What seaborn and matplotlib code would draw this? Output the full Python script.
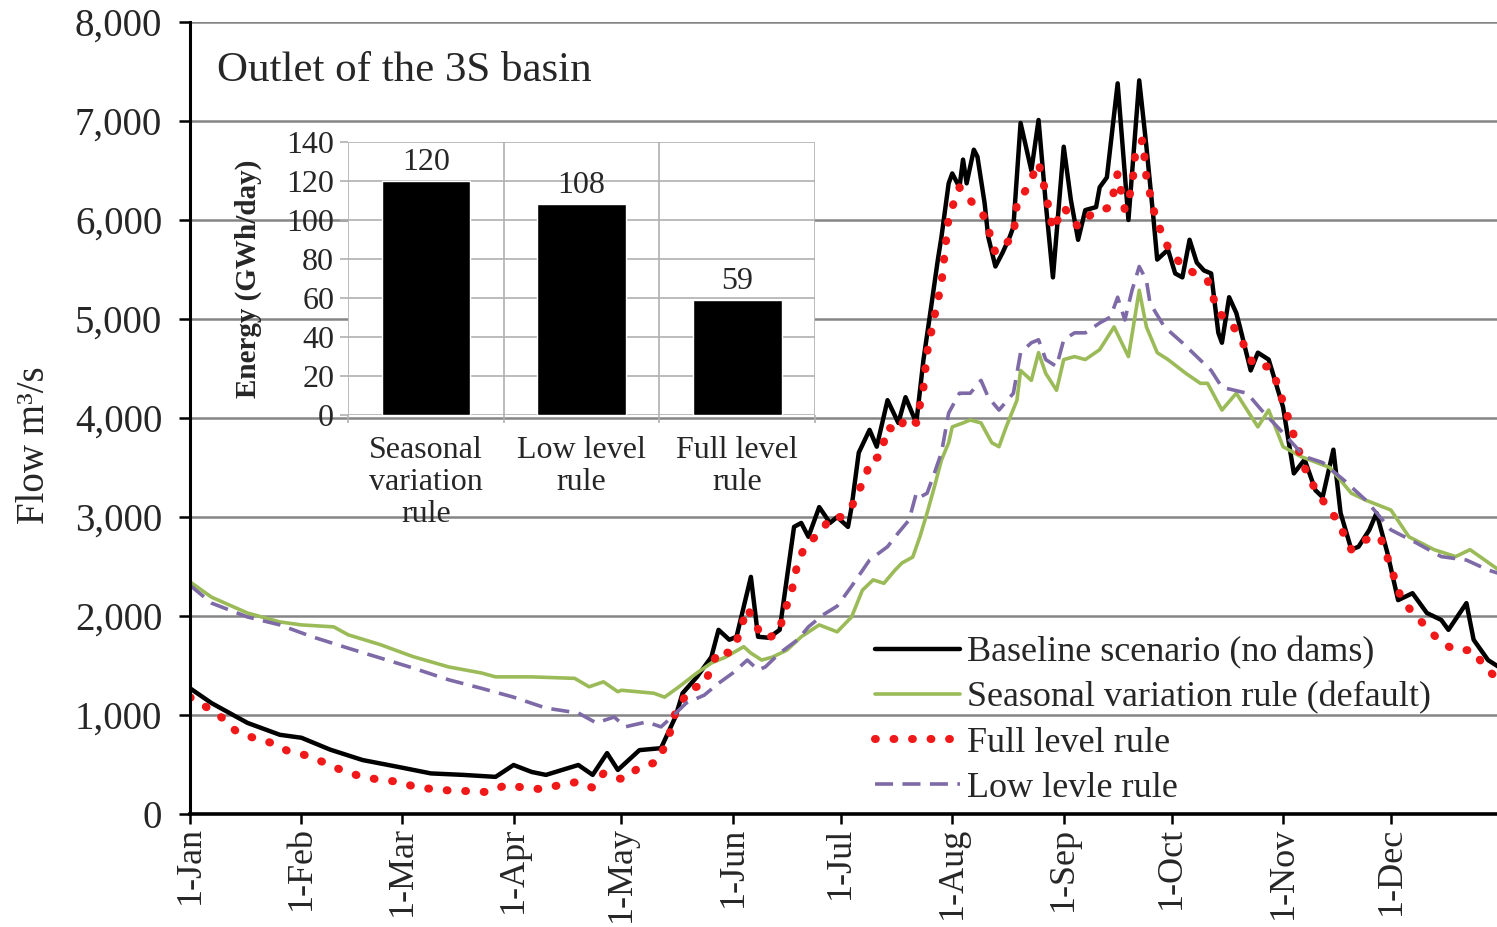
import matplotlib

matplotlib.use("Agg")

import matplotlib.pyplot as plt
import pandas as pd
import seaborn as sns
from matplotlib.ticker import FuncFormatter

# day of year (0 = 1-Jan) and flow in m3/s
BASE_DAY = [0, 6, 16, 25, 31, 39, 48, 58, 67, 76, 85, 90, 95, 99, 108, 112, 116, 119, 125, 131,
            135, 137, 141, 145, 147, 150, 152, 156, 158, 161, 164, 168, 170, 172, 175, 178, 180, 183,
            184, 186, 189, 191, 194, 197, 199, 202, 204, 206, 208, 209, 211, 212, 214, 215, 216, 218,
            219, 221, 222, 224, 226, 228, 229, 231, 234, 236, 238, 240, 243, 245, 247, 249, 252, 253,
            255, 258, 261, 264, 266, 268, 269, 272, 274, 276, 278, 280, 282, 284, 286, 287, 289, 291,
            292, 295, 297, 300, 304, 307, 310, 313, 315, 318, 320, 323, 325, 328, 330, 333, 336, 340,
            344, 348, 350, 355, 357, 361, 364]
BASE_FLOW = [1270, 1120, 920, 800, 770, 650, 545, 475, 410, 395, 375, 495, 425, 395, 495, 395, 615, 445, 645, 665,
             980, 1220, 1385, 1585, 1860, 1760, 1790, 2395, 1790, 1780, 1860, 2900, 2940, 2800, 3100, 2940, 3000, 2900,
             3100, 3650, 3880, 3710, 4180, 3950, 4210, 3950, 4590, 5090, 5600, 5830, 6370, 6470, 6330, 6610, 6370, 6710,
             6640, 6170, 5830, 5530, 5670, 5830, 5930, 6980, 6500, 7010, 6170, 5420, 6740, 6200, 5800, 6100, 6130, 6330,
             6430, 7380, 6000, 7410, 6740, 6000, 5600, 5700, 5460, 5420, 5800, 5570, 5490, 5460, 4860, 4760, 5220, 5060,
             4920, 4480, 4660, 4590, 4110, 3440, 3580, 3270, 3200, 3680, 3040, 2670, 2700, 2870, 3040, 2640, 2160, 2230,
             2030, 1960, 1860, 2130, 1760, 1555, 1485]

SEASONAL_DAY = [0, 6, 16, 25, 31, 40, 44, 53, 62, 72, 81, 85, 95, 107, 111, 115, 119, 120, 129, 132,
                136, 141, 145, 149, 154, 156, 159, 162, 166, 170, 175, 180, 184, 187, 190, 193, 196, 198,
                201, 203, 205, 207, 209, 211, 212, 215, 217, 220, 223, 225, 227, 230, 231, 234, 236, 238,
                241, 243, 246, 249, 253, 257, 261, 264, 266, 269, 272, 277, 281, 283, 287, 291, 297, 300,
                304, 309, 317, 323, 327, 334, 339, 346, 352, 356, 364]
SEASONAL_FLOW = [2345, 2190, 2030, 1940, 1910, 1890, 1810, 1710, 1590, 1485, 1425, 1385, 1385, 1370, 1285, 1335, 1235, 1250, 1220, 1180,
                 1285, 1425, 1525, 1585, 1690, 1625, 1555, 1585, 1655, 1790, 1910, 1840, 1990, 2260, 2365, 2330, 2460, 2535,
                 2595, 2800, 3040, 3300, 3575, 3750, 3910, 3950, 3980, 3950, 3750, 3710, 3910, 4180, 4480, 4380, 4660, 4450,
                 4280, 4590, 4620, 4590, 4690, 4920, 4620, 5290, 4920, 4660, 4590, 4450, 4350, 4350, 4080, 4250, 3910, 4080,
                 3710, 3610, 3500, 3240, 3170, 3070, 2800, 2670, 2600, 2670, 2465]

FULL_DAY = [0, 5, 9, 13, 18, 23, 27, 32, 37, 42, 47, 52, 58, 63, 68, 73, 79, 83, 88, 93, 98, 103, 108, 112,
            115, 118, 121, 125, 130, 133, 135, 139, 143, 145, 147, 150, 152, 155, 157, 159, 161, 164, 165,
            167, 168, 169, 171, 173, 176, 178, 181, 184, 186, 188, 189, 192, 194, 197, 199, 202, 204, 205,
            207, 209, 210, 211, 214, 217, 221, 224, 229, 230, 233, 236, 238, 240, 243, 247, 251, 256, 258,
            260, 262, 263, 265, 266, 268, 271, 276, 283, 286, 289, 292, 296, 300, 302, 305, 308, 311, 315,
            319, 323, 327, 331, 334, 337, 342, 348, 352, 357, 360, 364]
FULL_FLOW = [1180, 1070, 970, 830, 765, 715, 640, 595, 525, 445, 385, 350, 325, 270, 250, 235, 230, 220, 295, 265, 250, 295, 325, 265,
             410, 360, 355, 475, 525, 760, 1020, 1270, 1300, 1485, 1655, 1625, 1740, 2080, 1940, 1790, 1780, 1840, 2030,
             2190, 2365, 2535, 2700, 2770, 2870, 3000, 3000, 3100, 3270, 3400, 3575, 3610, 3910, 3860, 4010, 3950, 4310, 4660,
             5020, 5360, 5700, 6030, 6330, 6200, 6030, 5670, 5830, 6170, 6330, 6580, 6270, 5900, 6130, 5930, 6070, 6130, 6470,
             6100, 6330, 6710, 6810, 6430, 6100, 5780, 5530, 5390, 5060, 4990, 4820, 4520, 4520, 4380, 4050, 3710, 3400, 3170,
             2970, 2670, 2770, 2800, 2490, 2160, 1960, 1730, 1655, 1655, 1485, 1355]

LOW_DAY = [0, 6, 16, 25, 34, 44, 53, 62, 72, 81, 90, 99, 108, 113, 118, 121, 127, 131, 134, 138,
           143, 147, 151, 155, 158, 160, 164, 169, 172, 176, 180, 184, 189, 194, 197, 200, 202, 203,
           205, 207, 209, 210, 211, 214, 217, 220, 222, 225, 229, 231, 234, 236, 238, 241, 243, 246,
           249, 253, 256, 258, 260, 262, 264, 266, 267, 271, 276, 284, 287, 294, 298, 304, 310, 315,
           321, 327, 334, 341, 348, 355, 361, 364]
LOW_FLOW = [2310, 2130, 1990, 1910, 1790, 1675, 1575, 1475, 1355, 1270, 1180, 1070, 1020, 920, 980, 880, 930, 880, 980, 1120,
            1200, 1320, 1425, 1555, 1455, 1485, 1625, 1760, 1890, 2010, 2100, 2300, 2565, 2700, 2840, 2970, 3240, 3200,
            3240, 3440, 3650, 3850, 4050, 4250, 4250, 4380, 4210, 4080, 4250, 4660, 4760, 4790, 4590, 4520, 4790, 4860,
            4860, 4960, 5020, 5220, 4990, 5290, 5530, 5390, 5160, 4920, 4760, 4480, 4310, 4250, 4080, 3850, 3610, 3550,
            3370, 3170, 2870, 2740, 2600, 2565, 2465, 2430]

MONTH_DAYS = [0, 31, 59, 90, 120, 151, 181, 212, 243, 273, 304, 334]
MONTH_LABELS = ["1-Jan", "1-Feb", "1-Mar", "1-Apr", "1-May", "1-Jun",
                "1-Jul", "1-Aug", "1-Sep", "1-Oct", "1-Nov", "1-Dec"]

RULES = ["Seasonal\nvariation\nrule", "Low level\nrule", "Full level\nrule"]
ENERGY = [120, 108, 59]

GRID = "#858585"


def main() -> None:
    sns.set_theme(style="white")
    plt.rcParams["font.family"] = ["Liberation Serif", "DejaVu Serif"]

    fig = plt.figure(figsize=(14.97, 9.27), dpi=100)
    ax = fig.add_axes([0.1269, 0.1219, 0.8731, 0.8544])

    sns.lineplot(x=BASE_DAY, y=BASE_FLOW, ax=ax, color="black", linewidth=3.2,
                 label="Baseline scenario (no dams)")
    sns.lineplot(x=SEASONAL_DAY, y=SEASONAL_FLOW, ax=ax, color="#9bbb59", linewidth=2.6,
                 label="Seasonal variation rule (default)")
    sns.lineplot(x=FULL_DAY, y=FULL_FLOW, ax=ax, color="#f01818", linewidth=5.8,
                 linestyle=(0, (0.1, 2.2)), dash_capstyle="round", label="Full level rule")
    sns.lineplot(x=LOW_DAY, y=LOW_FLOW, ax=ax, color="#7d6aa6", linewidth=2.6,
                 linestyle=(0, (5, 2.6)), label="Low levle rule")

    ax.set_xlim(0, 363.5)
    ax.set_ylim(0, 8000)
    ax.set_yticks(range(0, 8001, 1000))
    ax.yaxis.set_major_formatter(FuncFormatter(lambda v, _: f"{int(v):,}"))
    ax.set_xticks(MONTH_DAYS)
    ax.set_xticklabels(MONTH_LABELS, rotation=90)
    ax.grid(axis="y", color=GRID, linewidth=1.8)
    ax.set_axisbelow(True)
    for side in ["top", "right"]:
        ax.spines[side].set_visible(False)
    ax.spines["left"].set_color("black")
    ax.spines["left"].set_linewidth(2.2)
    ax.spines["bottom"].set_color("black")
    ax.spines["bottom"].set_linewidth(2.6)
    ax.tick_params(axis="y", direction="out", length=8, width=1.8, color="black",
                   labelsize=28, pad=12, left=True)
    ax.tick_params(axis="x", direction="out", length=7, width=1.8, color="black",
                   labelsize=26, pad=2, bottom=True)
    ax.set_xlabel("")
    ax.set_ylabel("Flow m³/s", fontsize=28)
    ax.yaxis.set_label_coords(-0.105, 0.466)

    ax.text(0.021, 0.939, "Outlet of the 3S basin", transform=ax.transAxes,
            fontsize=31, va="center", ha="left")

    handles, labels = ax.get_legend_handles_labels()
    ax.legend(handles, labels, loc="upper left", bbox_to_anchor=(875 / 1497, 1 - 636 / 927),
              bbox_transform=fig.transFigure, frameon=False, fontsize=26, borderpad=0,
              handlelength=2.35, handletextpad=0.2, labelspacing=0.33, borderaxespad=0)

    # inset bar chart with energy production
    ax_in = fig.add_axes([0.2325, 0.5523, 0.312, 0.2945])
    ax_in.set_facecolor("white")
    sns.barplot(x=RULES, y=ENERGY, color="black", width=0.57, saturation=1, ax=ax_in)
    ax_in.bar_label(ax_in.containers[0], labels=[str(v) for v in ENERGY], fontsize=23, padding=3)
    ax_in.set_ylim(0, 140)
    ax_in.set_yticks(range(0, 141, 20))
    ax_in.set_xlim(-0.5, 2.5)
    ax_in.set_xticks([-0.5, 0.5, 1.5, 2.5], minor=True)
    ax_in.grid(axis="y", which="major", color="#b0b0b0", linewidth=1.2)
    ax_in.grid(axis="x", which="minor", color="#b0b0b0", linewidth=1.2)
    ax_in.set_axisbelow(True)
    for side in ax_in.spines:
        ax_in.spines[side].set_visible(False)
    ax_in.tick_params(axis="y", direction="out", length=6, width=1.2, color="#b0b0b0",
                      labelsize=23, pad=4, left=True)
    ax_in.tick_params(axis="x", which="major", length=0, labelsize=23, pad=15)
    ax_in.tick_params(axis="x", which="minor", direction="out", length=6, width=1.2,
                      color="#b0b0b0", bottom=True)
    for lab in ax_in.get_xticklabels():
        lab.set_linespacing(1.15)
    ax_in.set_ylabel("Energy (GWh/day)", fontsize=21, fontweight="bold")
    ax_in.yaxis.set_label_coords(-0.184, 0.5)

    fig.savefig("out.png", dpi=100)
    plt.close(fig)


if __name__ == "__main__":
    main()
